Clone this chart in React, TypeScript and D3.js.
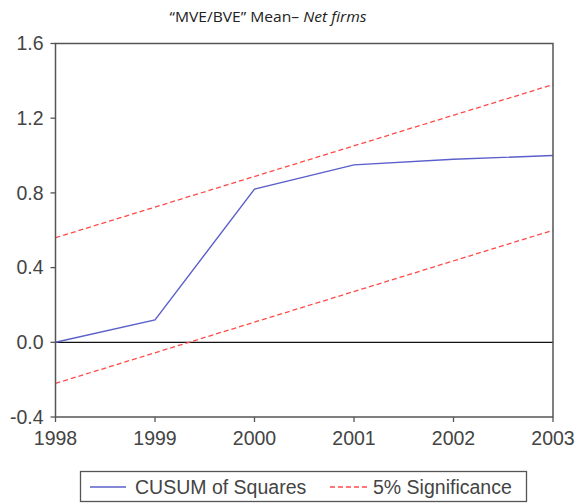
import React from "react";
import * as d3 from "d3";

// CUSUM of squares test, yearly observations
const years = [1998, 1999, 2000, 2001, 2002, 2003];
const cusumSquares = [0.0, 0.12, 0.82, 0.95, 0.98, 1.0];

// 5% significance bands (straight lines between end years)
const bandYears = [1998, 2003];
const upperBand = [0.56, 1.38];
const lowerBand = [-0.22, 0.6];

const yTicks = [-0.4, 0.0, 0.4, 0.8, 1.2, 1.6];
const xTicks = [1998, 1999, 2000, 2001, 2002, 2003];

const legendItems = ["CUSUM of Squares", "5% Significance"];

const W = 576;
const H = 504;
const left = 55.5;
const right = 553;
const top = 43.5;
const bottom = 417;

export default function App() {
  const x = d3.scaleLinear().domain([1998, 2003]).range([left, right]);
  const y = d3.scaleLinear().domain([-0.4, 1.6]).range([bottom, top]);

  const line = d3
    .line<[number, number]>()
    .x((d) => x(d[0]))
    .y((d) => y(d[1]));

  const cusumPath = line(years.map((yr, i) => [yr, cusumSquares[i]]) as [number, number][]) || "";
  const upperPath = line(bandYears.map((yr, i) => [yr, upperBand[i]]) as [number, number][]) || "";
  const lowerPath = line(bandYears.map((yr, i) => [yr, lowerBand[i]]) as [number, number][]) || "";

  const axisColor = "#555";
  const labelColor = "#444";
  const blue = "#5b5fc9";
  const red = "#ff4a4a";
  const tickFont = "'Liberation Sans', Arial, sans-serif";
  const fs = 19.5;

  return (
    <svg
      width={W}
      height={H}
      style={{ position: "absolute", left: 0, top: 0, background: "#fff" }}
    >
      <rect x={0} y={0} width={W} height={H} fill="#fff" />
      {/* title */}
      <text
        x={268}
        y={22}
        textAnchor="middle"
        fontFamily="'Open Sans', Lato, sans-serif"
        fontSize={15}
        fill="#222"
        textLength={197}
        lengthAdjust="spacingAndGlyphs"
      >
        “MVE/BVE” Mean–{" "}
        <tspan fontStyle="italic">Net firms</tspan>
      </text>

      {/* zero line */}
      <line x1={left} x2={right} y1={y(0)} y2={y(0)} stroke="#111" strokeWidth={1.3} />

      {/* significance bands */}
      <path d={upperPath} fill="none" stroke={red} strokeWidth={1.3} strokeDasharray="5,3" />
      <path d={lowerPath} fill="none" stroke={red} strokeWidth={1.3} strokeDasharray="5,3" />

      {/* CUSUM of squares */}
      <path d={cusumPath} fill="none" stroke={blue} strokeWidth={1.4} />

      {/* plot frame */}
      <rect
        x={left}
        y={top}
        width={right - left}
        height={bottom - top}
        fill="none"
        stroke={axisColor}
        strokeWidth={1.5}
      />

      {/* y axis ticks */}
      {yTicks.map((t) => (
        <g key={t}>
          <line x1={left - 5} x2={left} y1={y(t)} y2={y(t)} stroke={axisColor} strokeWidth={1.3} />
          <text
            x={left - 12}
            y={y(t)}
            dy="0.35em"
            textAnchor="end"
            fontFamily={tickFont}
            fontSize={fs}
            fill={labelColor}
          >
            {t.toFixed(1)}
          </text>
        </g>
      ))}

      {/* x axis ticks */}
      {xTicks.map((t) => (
        <g key={t}>
          <line x1={x(t)} x2={x(t)} y1={bottom} y2={bottom + 5} stroke={axisColor} strokeWidth={1.3} />
          <text
            x={x(t)}
            y={bottom + 28}
            textAnchor="middle"
            fontFamily={tickFont}
            fontSize={fs}
            fill={labelColor}
          >
            {t}
          </text>
        </g>
      ))}

      {/* legend */}
      <rect x={80.5} y={471.5} width={446} height={30} fill="#fff" stroke={axisColor} strokeWidth={1.3} />
      <line x1={90} x2={126} y1={487} y2={487} stroke={blue} strokeWidth={1.4} />
      <text x={135} y={487} dy="0.35em" fontFamily={tickFont} fontSize={fs} fill={labelColor}>
        {legendItems[0]}
      </text>
      <line x1={330} x2={367} y1={487} y2={487} stroke={red} strokeWidth={1.3} strokeDasharray="5,3" />
      <text x={373} y={487} dy="0.35em" fontFamily={tickFont} fontSize={fs} fill={labelColor}>
        {legendItems[1]}
      </text>
    </svg>
  );
}
